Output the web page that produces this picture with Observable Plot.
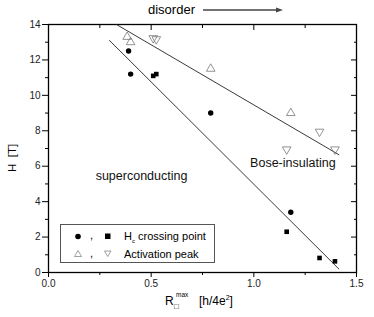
<!DOCTYPE html>
<html><head><meta charset="utf-8">
<script src="https://cdn.jsdelivr.net/npm/d3@7"></script>
<script src="https://cdn.jsdelivr.net/npm/@observablehq/plot@0.6"></script>
<style>
body{margin:0;background:#fff;font-family:"Liberation Sans",Arial,sans-serif;}
#wrap{position:relative;width:374px;height:317px;overflow:hidden;}
#wrap svg.plot{position:absolute;left:0;top:0;}
.ov{position:absolute;white-space:nowrap;color:#000;}
</style></head><body>
<div id="wrap"></div>
<script>
// Data
const circX = [0.39, 0.40, 0.79, 1.18];
const circY = [12.5, 11.2, 9.0, 3.4];
const sqX = [0.51, 0.525, 1.16, 1.32, 1.395];
const sqY = [11.1, 11.2, 2.3, 0.82, 0.63];
const upX = [0.383, 0.40, 0.79, 1.18];
const upY = [13.3, 13.0, 11.5, 9.0];
const downX = [0.51, 0.525, 1.16, 1.32, 1.395];
const downY = [13.23, 13.17, 6.95, 7.95, 6.95];
const lowFitX = [0.297, 1.414];
const lowFitY = [13.1, 0.2];
const upFitX = [0.331, 1.414];
const upFitY = [14.0, 6.65];
const xMajor = [0, 0.5, 1.0, 1.5];
const xMinor = [0.25, 0.75, 1.25];
const yMajor = [0, 2, 4, 6, 8, 10, 12, 14];
const yMinor = [1, 3, 5, 7, 9, 11, 13];

const pts = (xs, ys) => xs.map((x, i) => ({x, y: ys[i]}));
const fits = [
  ...pts(lowFitX, lowFitY).map(d => ({...d, s: "low"})),
  ...pts(upFitX, upFitY).map(d => ({...d, s: "up"}))
];
const triDown = {
  draw(ctx, size) {
    const y = -Math.sqrt(size / (Math.sqrt(3) * 3));
    const s3 = Math.sqrt(3);
    ctx.moveTo(0, -y * 2);
    ctx.lineTo(-s3 * y, y);
    ctx.lineTo(s3 * y, y);
    ctx.closePath();
  }
};
const triUp = {
  draw(ctx, size) {
    const y = -Math.sqrt(size / (Math.sqrt(3) * 3));
    const s3 = Math.sqrt(3);
    ctx.moveTo(0, y * 2);
    ctx.lineTo(-s3 * y, -y);
    ctx.lineTo(s3 * y, -y);
    ctx.closePath();
  }
};

const chart = Plot.plot({
  width: 374, height: 317,
  marginLeft: 48, marginRight: 18, marginTop: 24, marginBottom: 45,
  style: {fontFamily: '"Liberation Sans",Arial,sans-serif', fontSize: "10px", background: "#fff", overflow: "visible"},
  x: {domain: [0, 1.5]},
  y: {domain: [0, 14]},
  marks: [
    Plot.axisX(xMajor, {anchor: "bottom", tickSize: 5, tickPadding: 2, tickFormat: d3.format(".1f"), label: null, fill: "#222", fontSize: 10}),
    Plot.axisX(xMinor, {anchor: "bottom", tickSize: 3, text: null, label: null}),
    Plot.axisX(xMajor, {anchor: "top", tickSize: -5, text: null, label: null}),
    Plot.axisX(xMinor, {anchor: "top", tickSize: -3, text: null, label: null}),
    Plot.axisY(yMajor, {anchor: "left", tickSize: 6, tickPadding: 2, label: null, fill: "#222", fontSize: 10}),
    Plot.axisY(yMinor, {anchor: "left", tickSize: 3, text: null, label: null}),
    Plot.axisY(yMajor, {anchor: "right", tickSize: -6, text: null, label: null}),
    Plot.axisY(yMinor, {anchor: "right", tickSize: -3, text: null, label: null}),
    Plot.frame({stroke: "#000", strokeWidth: 1.3}),
    Plot.line(fits, {x: "x", y: "y", z: "s", stroke: "#222", strokeWidth: 0.9}),
    Plot.dot(pts(circX, circY), {x: "x", y: "y", symbol: "circle", fill: "#000", r: 2.7}),
    Plot.dot(pts(sqX, sqY), {x: "x", y: "y", symbol: "square", fill: "#000", r: 2.6}),
    Plot.dot(pts(upX, upY), {x: "x", y: "y", symbol: triUp, fill: "none", stroke: "#777", strokeWidth: 0.8, r: 3.2}),
    Plot.dot(pts(downX, downY), {x: "x", y: "y", symbol: triDown, fill: "none", stroke: "#777", strokeWidth: 0.8, r: 3.2}),
    Plot.text(["superconducting"], {x: 0.453, y: 5.42, text: d => d, fontSize: 12.5, fill: "#111"}),
    Plot.text(["Bose-insulating"], {x: 1.19, y: 6.2, text: d => d, fontSize: 12.5, fill: "#111"})
  ]
});
chart.classList.add("plot");
const wrap = document.getElementById("wrap");
wrap.appendChild(chart);

wrap.insertAdjacentHTML("beforeend", `
<div class="ov" style="left:148px;top:2px;font-size:13px;line-height:16px;">disorder</div>
<svg class="ov" style="left:200px;top:4px;" width="90" height="12">
  <line x1="3" y1="6" x2="78" y2="6" stroke="#444" stroke-width="1.3"/>
  <path d="M76,3.5 L83,6 L76,8.5 Z" fill="#444"/>
</svg>
<div class="ov" style="left:6px;font-size:11.5px;transform:rotate(-90deg);transform-origin:left top;top:172px;">H&nbsp;&nbsp;[T]</div>
<div class="ov" style="left:165px;top:294px;font-size:12px;line-height:14px;">R</div>
<div class="ov" style="left:176px;top:291px;font-size:6.5px;line-height:8px;">max</div>
<div class="ov" style="left:174px;top:302px;font-size:8px;line-height:9px;">&#9633;</div>
<div class="ov" style="left:199px;top:294px;font-size:12px;line-height:14px;">[h/4e<sup style="font-size:7px;line-height:0;">2</sup>]</div>
<div class="ov" style="left:60px;top:224px;width:153px;height:37px;border:1px solid #555;background:#fff;"></div>
<svg class="ov" style="left:60px;top:224px;" width="60" height="38">
  <circle cx="18" cy="12.5" r="2.8" fill="#000"/>
  <rect x="45" y="9.5" width="5.5" height="5.5" fill="#000"/>
  <path d="M14.5,32.5 L18,26.5 L21.5,32.5 Z" fill="none" stroke="#888" stroke-width="0.8"/>
  <path d="M44.5,27 L51,27 L47.75,32.5 Z" fill="none" stroke="#888" stroke-width="0.8"/>
</svg>
<div class="ov" style="left:90px;top:229px;font-size:11px;">,</div>
<div class="ov" style="left:90px;top:247px;font-size:11px;">,</div>
<div class="ov" style="left:124px;top:229px;font-size:11px;line-height:14px;">H<sub style="font-size:6px;">c</sub> crossing point</div>
<div class="ov" style="left:124px;top:247px;font-size:11px;line-height:14px;">Activation peak</div>
`);
</script>
</body></html>
